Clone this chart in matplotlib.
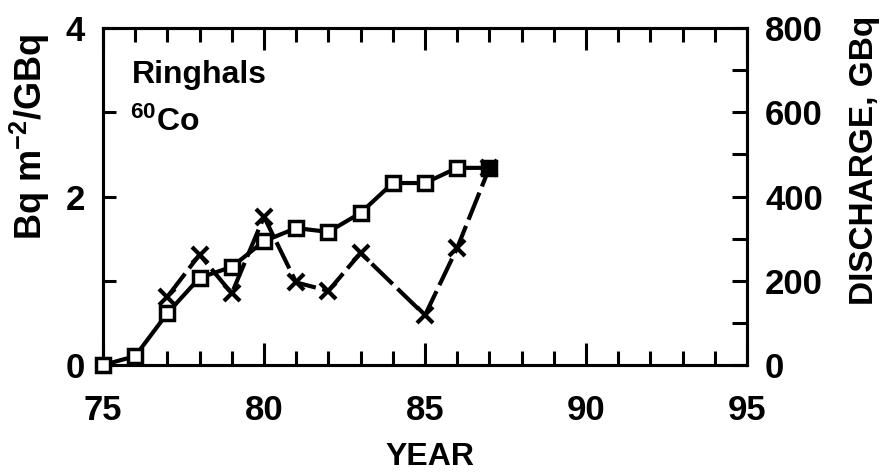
import matplotlib
matplotlib.use("Agg")
import matplotlib.pyplot as plt
from matplotlib.ticker import MultipleLocator

plt.rcParams['font.family'] = ['Liberation Sans', 'DejaVu Sans']
plt.rcParams['font.weight'] = 'bold'
plt.rcParams['mathtext.fontset'] = 'custom'
plt.rcParams['mathtext.rm'] = 'Liberation Sans:bold'
plt.rcParams['mathtext.default'] = 'rm'

# discharge (right axis, GBq), open squares
years_dis = [75, 76, 77, 78, 79, 80, 81, 82, 83, 84, 85, 86, 87]
discharge = [0, 21, 123, 207, 233, 294, 325, 316, 361, 432, 432, 468, 468]

# deposition per discharge (left axis, Bq m-2/GBq), crosses
years_dep = [77, 78, 79, 80, 81, 82, 83, 85, 86, 87]
deposition = [0.81, 1.31, 0.85, 1.76, 0.98, 0.88, 1.33, 0.59, 1.39, 2.34]

fig = plt.figure(figsize=(8.84, 4.73), dpi=100)
ax = fig.add_axes([0.1165, 0.2283, 0.7285, 0.7125])
ax2 = ax.twinx()

ax.plot(years_dep, deposition, color='black', lw=3, linestyle=(0, (7, 1.6)),
        marker='x', ms=11, mew=3, zorder=3, clip_on=False)
ax2.plot(years_dis, discharge, color='black', lw=3, marker='s', ms=10,
         mfc='white', mec='black', mew=2.5, zorder=4, clip_on=False)
ax2.plot(years_dis[-1:], discharge[-1:], color='black', marker='s', ms=10,
         mfc='black', mec='black', linestyle='none', zorder=5, clip_on=False)

ax.set_xlim(75, 95)
ax.set_ylim(0, 4)
ax2.set_ylim(0, 800)

ax.xaxis.set_major_locator(MultipleLocator(5))
ax.xaxis.set_minor_locator(MultipleLocator(1))
ax.yaxis.set_major_locator(MultipleLocator(2))
ax.yaxis.set_minor_locator(MultipleLocator(1))
ax2.yaxis.set_major_locator(MultipleLocator(200))
ax2.yaxis.set_minor_locator(MultipleLocator(100))

ax.tick_params(axis='x', which='both', direction='in', top=True, width=2.2,
               labelsize=25, pad=21)
ax.tick_params(axis='x', which='major', length=16)
ax.tick_params(axis='x', which='minor', length=10)
ax.tick_params(axis='y', which='both', direction='in', length=9, width=2.2,
               labelsize=25, pad=13)
ax2.tick_params(axis='y', which='both', direction='in', length=11, width=2.2,
                labelsize=25, pad=13)

for a in (ax, ax2):
    for s in a.spines.values():
        s.set_linewidth(2.2)

fig.text(0.486, 8 / 473, 'YEAR', ha='center', va='baseline', fontsize=23)
fig.text(0.034, 0.71, 'Bq m$^{-2}$/GBq', rotation=90, ha='center',
         va='center', fontsize=26)
fig.text(0.978, 0.66, 'DISCHARGE, GBq', rotation=90, ha='center',
         va='center', fontsize=24)
fig.text(132 / 884, 1 - 83 / 473, 'Ringhals', ha='left', va='baseline',
         fontsize=23)
fig.text(130 / 884, 1 - 131 / 473, '$^{60}$Co', ha='left', va='baseline',
         fontsize=23)

fig.savefig('out.png', dpi=100)
